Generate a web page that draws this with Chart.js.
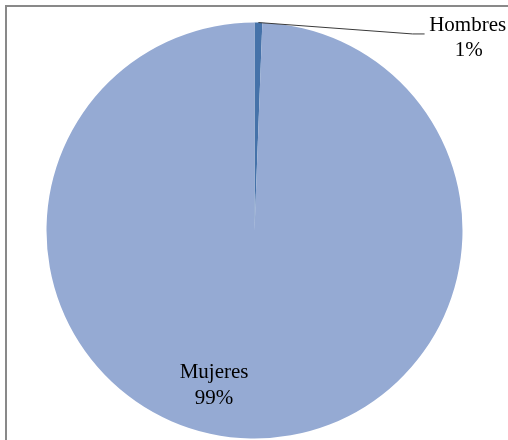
<!DOCTYPE html>
<html>
<head>
<meta charset="utf-8">
<script src="https://cdn.jsdelivr.net/npm/chart.js@4/dist/chart.umd.min.js"></script>
<style>
  html, body { margin: 0; padding: 0; width: 508px; height: 440px; overflow: hidden; background: #fff; }
  #frame { position: absolute; left: 5px; top: 5px; width: 700px; height: 700px; border: 2px solid #898989; box-sizing: border-box; }
  #wrap { position: absolute; left: 0; top: 0; width: 508px; height: 440px; }
</style>
</head>
<body>
<div id="frame"></div>
<div id="wrap"><canvas id="c" width="508" height="440"></canvas></div>
<script>
const categories = ["Hombres", "Mujeres"];
const values = [0.6, 99.4];
const percentLabels = ["1%", "99%"];
const colors = ["#4572A9", "#95AAD3"];

const labelPlugin = {
  id: 'excelLabels',
  afterDatasetsDraw(chart) {
    const ctx = chart.ctx;
    const meta = chart.getDatasetMeta(0);
    ctx.save();
    ctx.font = '21px "Liberation Serif", "Times New Roman", serif';
    ctx.fillStyle = '#000';
    ctx.textAlign = 'center';
    ctx.textBaseline = 'middle';
    // Hombres: outside with leader line
    const a0 = meta.data[0];
    const cx = a0.x, cy = a0.y, r = a0.outerRadius;
    const ang = (a0.startAngle + a0.endAngle) / 2;
    const sx = cx + Math.cos(ang) * r;
    const sy = cy + Math.sin(ang) * r;
    const lx = cx + r * 0.76, ly = cy - r * 0.945;
    ctx.strokeStyle = '#3a3a3a';
    ctx.lineWidth = 1;
    ctx.beginPath();
    ctx.moveTo(sx, sy);
    ctx.lineTo(lx, ly);
    ctx.lineTo(lx + 12, ly);
    ctx.stroke();
    const hx = cx + r * 1.025, hy = cy - r * 0.985;
    ctx.fillText(categories[0], hx, hy);
    ctx.fillText(percentLabels[0], hx + 1, hy + 25);
    // Mujeres: inside
    const a1 = meta.data[1];
    const mAng = Math.PI / 2 + 0.255;
    const mr = r * 0.77;
    const mx = cx + Math.cos(mAng) * mr;
    const my = cy + Math.sin(mAng) * mr;
    ctx.fillText(categories[1], mx, my - 13);
    ctx.fillText(percentLabels[1], mx, my + 13);
    ctx.restore();
  }
};

new Chart(document.getElementById('c'), {
  type: 'pie',
  data: {
    labels: categories,
    datasets: [{
      data: values,
      backgroundColor: colors,
      borderWidth: 0
    }]
  },
  options: {
    responsive: false,
    animation: false,
    layout: { padding: { left: 46, right: 45, top: 22.5, bottom: 1.5 } },
    plugins: {
      legend: { display: false },
      tooltip: { enabled: false }
    }
  },
  plugins: [labelPlugin]
});
</script>
</body>
</html>
